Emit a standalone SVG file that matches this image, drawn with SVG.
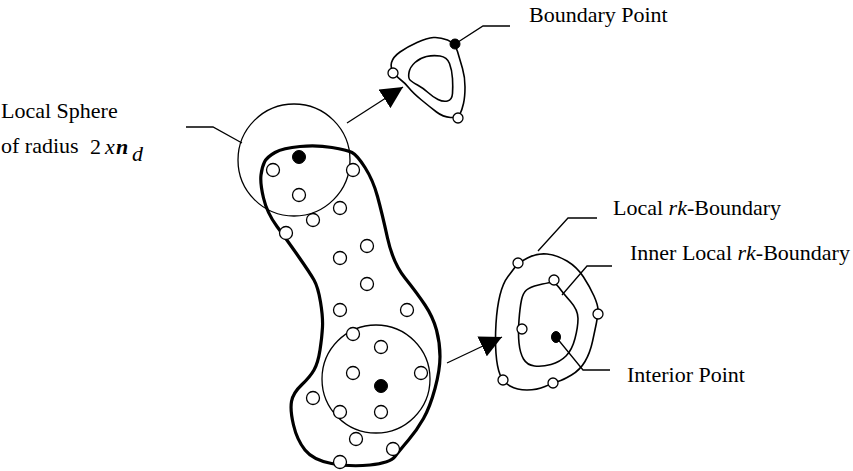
<svg xmlns="http://www.w3.org/2000/svg" width="853" height="471" viewBox="0 0 853 471">
<style>
text{font-family:"Liberation Serif","Times New Roman",serif;font-size:22px;fill:#000}
.it{font-style:italic}
.ln{fill:none;stroke:#000;stroke-width:1.3}
.sh{fill:none;stroke:#000;stroke-width:1.6;stroke-linejoin:round}
.blob{fill:none;stroke:#000;stroke-width:3.2;stroke-linejoin:round}
.o{fill:#fff;stroke:#000;stroke-width:1.3}
.f{fill:#000;stroke:#000;stroke-width:1}
</style>
<defs>
<marker id="ah" viewBox="0 0 10 10" refX="10" refY="5" markerWidth="22" markerHeight="22" markerUnits="userSpaceOnUse" orient="auto">
<path d="M0,0 L10,5 L0,10 Z" fill="#000"/>
</marker>
</defs>

<g id="blob">
<path class="blob" d="M264.5,162 Q267,157 275,152.5 Q283,148 300,146.5 Q317,145 332,147.5 Q347,150 352,152.5 Q357,155 365,167.5 Q373,180 377.5,196.5 Q382,213 387.5,238 Q393,263 405,278 Q417,293 425,305 Q433,317 436.5,330 Q440,343 440,356.5 Q440,370 435,388.5 Q430,407 423.5,418.5 Q417,430 408.5,440 Q400,450 395,456.5 Q390,463 370,465 Q350,467 331.5,463.5 Q313,460 305,450 Q297,440 293.5,425 Q290,410 291.5,401.5 Q293,393 301.5,385 Q310,377 314,370 Q318,363 320,350 Q322,337 322.5,327 Q323,317 320.5,302 Q318,287 314,280 Q310,273 298.5,256.5 Q287,240 277,226.5 Q267,213 263.5,198 Q260,183 261,175 Q262,167 264.5,162 Z"/>
<circle class="ln" cx="294" cy="160" r="56"/>
<circle class="ln" cx="376" cy="379" r="54"/>
<g>
<circle class="o" cx="273" cy="170" r="6.5"/>
<circle class="o" cx="299" cy="195" r="6.5"/>
<circle class="o" cx="353" cy="170" r="6.5"/>
<circle class="o" cx="340" cy="208" r="6.5"/>
<circle class="o" cx="313" cy="220" r="6.5"/>
<circle class="o" cx="286" cy="233" r="6.5"/>
<circle class="o" cx="367" cy="246" r="6.5"/>
<circle class="o" cx="340" cy="258" r="6.5"/>
<circle class="o" cx="367" cy="284" r="6.5"/>
<circle class="o" cx="340" cy="310" r="6.5"/>
<circle class="o" cx="407" cy="310" r="6.5"/>
<circle class="o" cx="353" cy="334" r="6.5"/>
<circle class="o" cx="381" cy="347" r="6.5"/>
<circle class="o" cx="353" cy="373" r="6.5"/>
<circle class="o" cx="421" cy="373" r="6.5"/>
<circle class="o" cx="313" cy="398" r="6.5"/>
<circle class="o" cx="340" cy="412" r="6.5"/>
<circle class="o" cx="381" cy="412" r="6.5"/>
<circle class="o" cx="356" cy="439" r="6.5"/>
<circle class="o" cx="393" cy="449" r="6.5"/>
<circle class="o" cx="340" cy="462" r="6.5"/>
<circle class="f" cx="299" cy="157" r="6.5"/>
<circle class="f" cx="381" cy="386" r="6.5"/>
</g>
</g>

<g id="boundary-shape">
<path class="sh" d="M394,73 Q390,68 391.5,62.5 Q393,57 400,52 Q407,47 417,42.5 Q427,38 433.5,37.5 Q440,37 447.5,40 Q455,43 457.5,51.5 Q460,60 462.5,68.5 Q465,77 465,87 Q465,97 463.5,103.5 Q462,110 460,114 Q458,118 450.5,117.5 Q443,117 436.5,112 Q430,107 421.5,100 Q413,93 409,88 Q405,83 401.5,80.5 Q398,78 394,73 Z"/>
<path class="sh" d="M410,80 Q408,78 409,72.5 Q410,67 415,62.5 Q420,58 426.5,56.5 Q433,55 440,56 Q447,57 449.5,63.5 Q452,70 452.5,78.5 Q453,87 452.5,93.5 Q452,100 447.5,101 Q443,102 438,99.5 Q433,97 428,92.5 Q423,88 417.5,85 Q412,82 410,80 Z"/>
<circle class="o" cx="393" cy="73" r="5"/>
<circle class="o" cx="458" cy="118" r="5"/>
<circle class="f" cx="455" cy="44" r="5"/>
</g>

<g id="rk-shape">
<path class="sh" d="M515.5,266.5 Q518,263 527.5,258 Q537,253 547,254 Q557,255 567,261 Q577,267 583.5,277 Q590,287 594,296 Q598,305 598,310 Q598,315 596.5,322.5 Q595,330 592.5,341.5 Q590,353 585,361.5 Q580,370 571.5,375 Q563,380 558,381.5 Q553,383 545,386.5 Q537,390 527,390 Q517,390 510,386 Q503,382 500,374.5 Q497,367 496,353.5 Q495,340 496,323.5 Q497,307 500,295 Q503,283 508,276.5 Q513,270 515.5,266.5 Z"/>
<path class="sh" d="M526.5,290 Q530,287 538.5,285 Q547,283 551,282.5 Q555,282 559,287.5 Q563,293 570.5,301.5 Q578,310 578,318.5 Q578,327 575,338.5 Q572,350 566,356 Q560,362 551,364.5 Q542,367 534.5,366 Q527,365 523.5,359 Q520,353 519,343 Q518,333 519,320 Q520,307 521.5,300 Q523,293 526.5,290 Z"/>
<circle class="o" cx="518" cy="263" r="5"/>
<circle class="o" cx="554" cy="280" r="5"/>
<circle class="o" cx="598" cy="314" r="5"/>
<circle class="o" cx="522" cy="329" r="5"/>
<circle class="o" cx="553" cy="383" r="5"/>
<circle class="o" cx="503" cy="380" r="5"/>
<ellipse class="f" cx="556" cy="337" rx="4.5" ry="5.5"/>
</g>

<g id="connectors">
<line class="ln" x1="347" y1="123" x2="403" y2="87" marker-end="url(#ah)"/>
<line class="ln" x1="447" y1="363" x2="502" y2="337" marker-end="url(#ah)"/>
<polyline class="ln" points="186,127 213,127 242,143"/>
<polyline class="ln" points="455,44 483,26 510,26"/>
<polyline class="ln" points="538,251 568,218 597,218"/>
<polyline class="ln" points="562,295 587,266 612,266"/>
<polyline class="ln" points="556,337 583,370 610,370"/>
</g>

<g id="labels">
<text x="1" y="118">Local Sphere</text>
<text x="1" y="153">of radius</text>
<text x="90" y="154" font-size="29">2</text>
<text x="105" y="154" font-size="14" class="it">x</text>
<text x="116" y="154" font-size="28" font-weight="bold" class="it">n</text>
<text x="132" y="161" font-size="13" class="it">d</text>
<text x="529" y="22">Boundary Point</text>
<text x="613" y="215">Local <tspan class="it">rk</tspan>-Boundary</text>
<text x="630" y="260">Inner Local <tspan class="it">rk</tspan>-Boundary</text>
<text x="627" y="382">Interior Point</text>
</g>
</svg>
